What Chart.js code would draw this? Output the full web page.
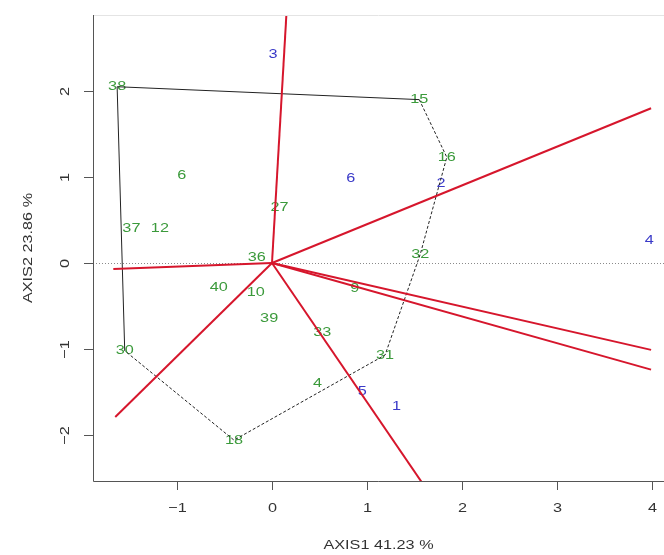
<!DOCTYPE html>
<html>
<head>
<meta charset="utf-8">
<script src="https://cdn.jsdelivr.net/npm/chart.js@4/dist/chart.umd.min.js"></script>
<style>
  html, body { margin: 0; padding: 0; background: #ffffff; }
  canvas { display: block; }
</style>
</head>
<body>
<canvas id="biplot" width="664" height="555"></canvas>
<script>
// Site scores (green labels)
const siteLabels = ['38', '15', '16', '32', '31', '4', '18', '30', '37', '12', '6', '27', '36', '40', '10', '39', '33', '9'];
const siteX = [-1.63, 1.55, 1.84, 1.56, 1.19, 0.48, -0.40, -1.55, -1.48, -1.18, -0.95, 0.08, -0.16, -0.56, -0.17, -0.03, 0.53, 0.87];
const siteY = [2.05, 1.90, 1.23, 0.10, -1.07, -1.40, -2.06, -1.02, 0.40, 0.40, 1.02, 0.65, 0.06, -0.28, -0.34, -0.64, -0.81, -0.29];

// Species scores (blue labels)
const speciesLabels = ['3', '6', '2', '4', '5', '1'];
const speciesX = [0.01, 0.83, 1.78, 3.97, 0.95, 1.31];
const speciesY = [2.42, 0.98, 0.92, 0.26, -1.49, -1.67];

// Convex hull around the sites, in drawing order
const hullSolid = ['30', '38', '15'];
const hullDashed = ['15', '16', '32', '31', '18', '30'];

// Variable vectors drawn from the origin
const vectorX = [0.16, 3.99, 3.99, 3.99, 1.62, -1.65, -1.67];
const vectorY = [3.05, 1.80, -1.01, -1.24, -2.62, -1.79, -0.07];

// Axis ticks and titles
const xTicks = [-1, 0, 1, 2, 3, 4];
const yTicks = [-2, -1, 0, 1, 2];
const xTitle = 'AXIS1 41.23 %';
const yTitle = 'AXIS2 23.86 %';

const FONT = '"Liberation Sans", Arial, sans-serif';
const GREEN = '#3b9a3b';
const BLUE = '#3a3ac8';
const RED = 'rgb(214,22,44)';
const STRETCH = 1.25; // text is drawn slightly wide

function hullPoints(names) {
  return names.map(n => {
    const i = siteLabels.indexOf(n);
    return { x: siteX[i], y: siteY[i] };
  });
}

// centred text, widened along its reading direction
function wideText(ctx, text, px, py, angle) {
  ctx.save();
  ctx.translate(px, py);
  if (angle) ctx.rotate(angle);
  ctx.scale(STRETCH, 1);
  ctx.fillText(text, 0, 0);
  ctx.restore();
}

const datasets = [];
datasets.push({
  label: 'hull', data: hullPoints(hullSolid), showLine: true,
  borderColor: '#222', borderWidth: 1, pointRadius: 0, order: 5
});
datasets.push({
  label: 'hull2', data: hullPoints(hullDashed), showLine: true,
  borderColor: '#222', borderWidth: 1, borderDash: [3, 2], pointRadius: 0, order: 5
});
vectorX.forEach((vx, i) => {
  datasets.push({
    label: 'v' + i, data: [{ x: 0, y: 0 }, { x: vx, y: vectorY[i] }], showLine: true,
    borderColor: RED, borderWidth: 2, pointRadius: 0, order: 1
  });
});

// Axes, ticks, titles and the dotted zero line
const framePlugin = {
  id: 'frame',
  beforeDatasetsDraw(chart) {
    const { ctx, chartArea: a, scales: { x, y } } = chart;
    ctx.save();
    // dotted zero line
    ctx.strokeStyle = '#8a8a8a';
    ctx.lineWidth = 1;
    ctx.setLineDash([1, 2]);
    ctx.beginPath();
    const y0 = Math.round(y.getPixelForValue(0)) + 0.5;
    ctx.moveTo(a.left, y0); ctx.lineTo(a.right, y0);
    ctx.stroke();
    ctx.setLineDash([]);

    // labels
    ctx.font = '13px ' + FONT;
    ctx.textAlign = 'center';
    ctx.textBaseline = 'middle';
    ctx.fillStyle = GREEN;
    siteLabels.forEach((t, i) => wideText(ctx, t, x.getPixelForValue(siteX[i]), y.getPixelForValue(siteY[i])));
    ctx.fillStyle = BLUE;
    speciesLabels.forEach((t, i) => wideText(ctx, t, x.getPixelForValue(speciesX[i]), y.getPixelForValue(speciesY[i])));
    ctx.restore();
  },
  afterDraw(chart) {
    const { ctx, chartArea: a, scales: { x, y } } = chart;
    ctx.save();
    // top border (faint)
    ctx.strokeStyle = '#e4e4e4';
    ctx.lineWidth = 1;
    ctx.beginPath();
    ctx.moveTo(a.left, a.top + 0.5); ctx.lineTo(a.right, a.top + 0.5);
    ctx.stroke();
    // left and bottom axis lines
    ctx.strokeStyle = '#555';
    ctx.beginPath();
    ctx.moveTo(a.left + 0.5, a.top); ctx.lineTo(a.left + 0.5, a.bottom + 0.5);
    ctx.lineTo(a.right, a.bottom + 0.5);
    ctx.stroke();

    ctx.font = '13px ' + FONT;
    ctx.fillStyle = '#333';
    ctx.textAlign = 'center';
    ctx.textBaseline = 'middle';
    // x ticks
    xTicks.forEach(v => {
      const px = Math.round(x.getPixelForValue(v)) + 0.5;
      ctx.beginPath();
      ctx.moveTo(px, a.bottom); ctx.lineTo(px, a.bottom + 9);
      ctx.stroke();
      wideText(ctx, v < 0 ? '\u2212' + Math.abs(v) : String(v), px, a.bottom + 27);
    });
    // y ticks (labels parallel to the axis)
    yTicks.forEach(v => {
      const py = Math.round(y.getPixelForValue(v)) + 0.5;
      ctx.beginPath();
      ctx.moveTo(a.left, py); ctx.lineTo(a.left - 9, py);
      ctx.stroke();
      wideText(ctx, v < 0 ? '\u2212' + Math.abs(v) : String(v), a.left - 28, py, -Math.PI / 2);
    });
    // axis titles
    wideText(ctx, xTitle, (a.left + a.right) / 2, a.bottom + 64);
    wideText(ctx, yTitle, a.left - 65, (a.top + a.bottom) / 2, -Math.PI / 2);
    ctx.restore();
  }
};

new Chart(document.getElementById('biplot').getContext('2d'), {
  type: 'scatter',
  data: { datasets },
  options: {
    responsive: false,
    animation: false,
    devicePixelRatio: 1,
    layout: { padding: { top: 15, right: 0, left: 0, bottom: 0 } },
    plugins: { legend: { display: false }, tooltip: { enabled: false } },
    scales: {
      x: {
        type: 'linear', min: -1.884, max: 4.126,
        grid: { display: false }, border: { display: false }, ticks: { display: false },
        afterFit: s => { s.height = 74; }
      },
      y: {
        type: 'linear', min: -2.535, max: 2.884,
        grid: { display: false }, border: { display: false }, ticks: { display: false },
        afterFit: s => { s.width = 93; }
      }
    }
  },
  plugins: [framePlugin]
});
</script>
</body>
</html>
